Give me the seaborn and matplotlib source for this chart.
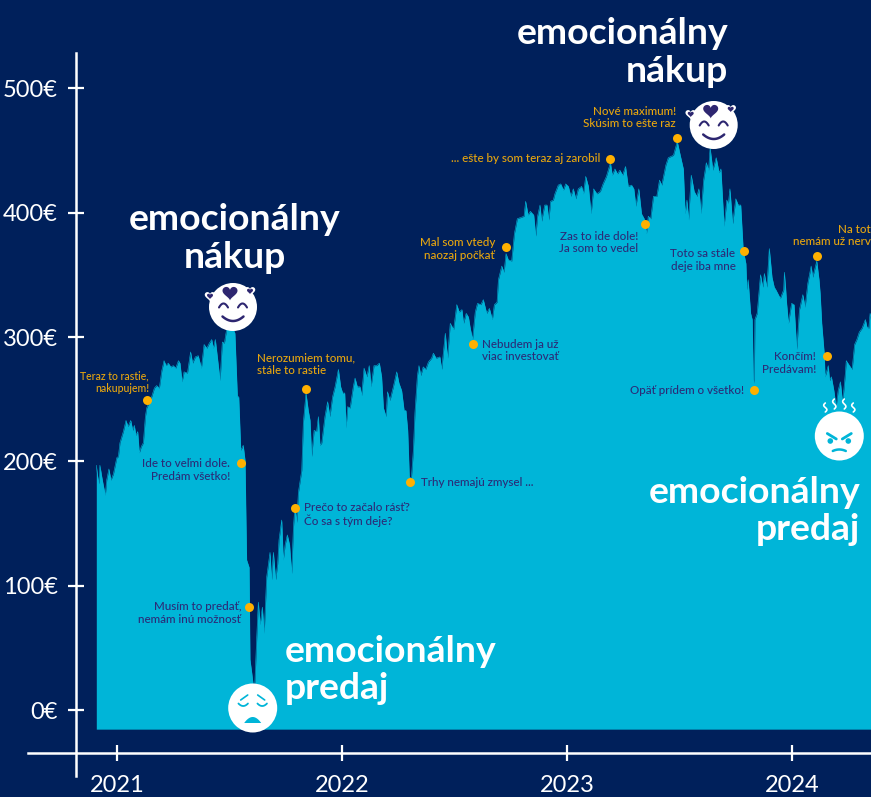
import numpy as np
import pandas as pd
import matplotlib
matplotlib.use('Agg')
import matplotlib.pyplot as plt
import seaborn as sns

# price history (decimal year, euro)
dates_2020 = [2020.908, 2020.914, 2020.919, 2020.924, 2020.932, 2020.939, 2020.948, 2020.954, 2020.964, 2020.973, 2020.984, 2020.999]
price_2020 = [197, 188, 182, 197, 188, 181, 173, 185, 194, 185, 190, 203]

dates_2021 = [2021.006, 2021.013, 2021.028, 2021.040, 2021.049, 2021.061, 2021.070, 2021.077, 2021.084, 2021.092, 2021.099, 2021.108,
              2021.117, 2021.126, 2021.132, 2021.142, 2021.154, 2021.166, 2021.176, 2021.188, 2021.199, 2021.209, 2021.218, 2021.228,
              2021.239, 2021.250, 2021.261, 2021.273, 2021.280, 2021.289, 2021.298, 2021.313, 2021.327, 2021.336, 2021.348, 2021.361,
              2021.375, 2021.387, 2021.399, 2021.410, 2021.421, 2021.428, 2021.437, 2021.446, 2021.458, 2021.468, 2021.477, 2021.487,
              2021.497, 2021.510, 2021.524, 2021.535, 2021.541, 2021.550, 2021.561, 2021.569, 2021.576, 2021.587, 2021.591, 2021.599,
              2021.609, 2021.613, 2021.621, 2021.628, 2021.636, 2021.646, 2021.654, 2021.665, 2021.680, 2021.687, 2021.695, 2021.705,
              2021.714, 2021.720, 2021.732, 2021.739, 2021.747, 2021.757, 2021.767, 2021.776, 2021.784, 2021.791, 2021.799, 2021.806,
              2021.821, 2021.828, 2021.840, 2021.850, 2021.858, 2021.865, 2021.876, 2021.887, 2021.895, 2021.902, 2021.910, 2021.924,
              2021.936, 2021.946, 2021.958, 2021.969, 2021.984, 2021.994]
price_2021 = [204, 215, 224, 233, 228, 233, 225, 229, 221, 224, 207, 212,
              215, 236, 243, 247, 252, 259, 261, 259, 273, 281, 277, 279,
              276, 277, 275, 281, 279, 264, 272, 271, 288, 279, 284, 285,
              275, 294, 291, 295, 298, 291, 298, 284, 265, 296, 295, 306,
              318, 309, 303, 252, 252, 209, 213, 201, 121, 115, 41, 30,
              15, 24, 59, 87, 69, 83, 62, 107, 127, 105, 127, 105,
              118, 137, 153, 121, 133, 141, 133, 110, 147, 165, 151, 175,
              193, 231, 255, 241, 233, 204, 225, 224, 236, 213, 215, 236,
              248, 236, 252, 260, 274, 260]

dates_2022 = [2022.003, 2022.012, 2022.018, 2022.025, 2022.036, 2022.050, 2022.058, 2022.068, 2022.080, 2022.087, 2022.098, 2022.110,
              2022.121, 2022.129, 2022.142, 2022.154, 2022.166, 2022.176, 2022.184, 2022.196, 2022.202, 2022.213, 2022.228, 2022.243,
              2022.253, 2022.265, 2022.276, 2022.284, 2022.292, 2022.299, 2022.308, 2022.317, 2022.324, 2022.335, 2022.342, 2022.350,
              2022.361, 2022.372, 2022.384, 2022.398, 2022.406, 2022.418, 2022.435, 2022.443, 2022.459, 2022.469, 2022.481, 2022.496,
              2022.510, 2022.521, 2022.533, 2022.540, 2022.552, 2022.562, 2022.569, 2022.580, 2022.592, 2022.602, 2022.617, 2022.628,
              2022.643, 2022.655, 2022.668, 2022.677, 2022.689, 2022.695, 2022.710, 2022.720, 2022.729, 2022.739, 2022.754, 2022.766,
              2022.779, 2022.794, 2022.809, 2022.816, 2022.827, 2022.837, 2022.852, 2022.861, 2022.869, 2022.880, 2022.887, 2022.901,
              2022.911, 2022.919, 2022.927, 2022.939, 2022.946, 2022.961, 2022.972, 2022.984, 2022.994]
price_2022 = [255, 255, 227, 244, 243, 260, 267, 260, 260, 253, 275, 268,
              277, 260, 277, 277, 279, 268, 243, 236, 256, 249, 260, 272,
              263, 257, 241, 241, 225, 188, 186, 209, 239, 269, 277, 269,
              276, 274, 280, 283, 287, 283, 284, 274, 303, 283, 311, 306,
              326, 320, 322, 311, 319, 316, 308, 298, 320, 327, 326, 330,
              319, 323, 314, 326, 328, 346, 357, 352, 367, 362, 361, 383,
              395, 396, 397, 409, 398, 401, 398, 381, 397, 406, 393, 406,
              406, 394, 409, 410, 415, 422, 423, 418, 423]

dates_2023 = [2023.006, 2023.017, 2023.028, 2023.039, 2023.050, 2023.065, 2023.073, 2023.083, 2023.095, 2023.107, 2023.118, 2023.133,
              2023.148, 2023.160, 2023.175, 2023.185, 2023.193, 2023.201, 2023.213, 2023.224, 2023.235, 2023.247, 2023.260, 2023.272,
              2023.287, 2023.297, 2023.306, 2023.319, 2023.331, 2023.343, 2023.353, 2023.361, 2023.372, 2023.384, 2023.399, 2023.411,
              2023.421, 2023.439, 2023.450, 2023.473, 2023.490, 2023.502, 2023.517, 2023.525, 2023.533, 2023.540, 2023.552, 2023.565,
              2023.577, 2023.586, 2023.596, 2023.607, 2023.619, 2023.629, 2023.636, 2023.648, 2023.663, 2023.676, 2023.684, 2023.698,
              2023.710, 2023.717, 2023.724, 2023.736, 2023.750, 2023.761, 2023.772, 2023.783, 2023.795, 2023.799, 2023.805, 2023.816,
              2023.823, 2023.828, 2023.832, 2023.835, 2023.845, 2023.854, 2023.860, 2023.870, 2023.877, 2023.888, 2023.899, 2023.911,
              2023.921, 2023.928, 2023.948, 2023.963, 2023.966, 2023.972, 2023.976, 2023.984, 2023.998]
price_2023 = [421, 413, 419, 411, 419, 421, 415, 429, 421, 399, 419, 415,
              417, 423, 429, 435, 440, 430, 435, 431, 434, 430, 437, 421,
              422, 419, 405, 419, 399, 395, 383, 397, 395, 413, 413, 426,
              422, 438, 444, 446, 457, 447, 435, 399, 410, 394, 430, 417,
              413, 419, 399, 426, 440, 434, 452, 434, 444, 432, 435, 389,
              410, 407, 419, 391, 411, 406, 406, 370, 359, 338, 346, 319,
              314, 266, 263, 314, 319, 338, 350, 340, 351, 340, 371, 348,
              340, 338, 331, 338, 352, 338, 327, 311, 327]

dates_2024 = [2024.009, 2024.021, 2024.033, 2024.048, 2024.058, 2024.070, 2024.085, 2024.092, 2024.110, 2024.120, 2024.125, 2024.132,
              2024.143, 2024.147, 2024.161, 2024.167, 2024.175, 2024.186, 2024.196, 2024.205, 2024.215, 2024.225, 2024.237, 2024.241,
              2024.259, 2024.267, 2024.278, 2024.288, 2024.299, 2024.311, 2024.326, 2024.333, 2024.341, 2024.347, 2024.360]
price_2024 = [326, 290, 322, 334, 324, 343, 357, 348, 361, 346, 335, 311,
              287, 268, 277, 265, 268, 257, 244, 257, 264, 247, 271, 281,
              276, 274, 294, 298, 304, 307, 314, 308, 307, 319, 310]

year_ticks = [2021, 2022, 2023, 2024]
euro_ticks = [0, 100, 200, 300, 400, 500]
euro_labels = ['0€', '100€', '200€', '300€', '400€', '500€']

# annotated moments
note_dates = [2021.135, 2021.549, 2021.587, 2021.790, 2021.840, 2022.304, 2022.580, 2022.729,
              2023.191, 2023.345, 2023.490, 2023.785, 2024.110, 2024.154, 2023.831]
note_prices = [249.2, 198.8, 83.4, 162.9, 258.5, 183.5, 294.1, 372,
               443, 391, 459.8, 368.8, 365, 284.5, 257.4]
note_texts = ['Teraz to rastie,\nnakupujem!', 'Ide to veľmi dole.\nPredám všetko!', 'Musím to predať,\nnemám inú možnosť',
              'Prečo to začalo rásť?\nČo sa s tým deje?', 'Nerozumiem tomu,\nstále to rastie', 'Trhy nemajú zmysel ...',
              'Nebudem ja už\nviac investovať', 'Mal som vtedy\nnaozaj počkať', '... ešte by som teraz aj zarobil',
              'Zas to ide dole!\nJa som to vedel', 'Nové maximum!\nSkúsim to ešte raz', 'Toto sa stále\ndeje iba mne',
              'Na toto\nnemám už nervy', 'Končím!\nPredávam!', 'Opäť prídem o všetko!']

NAVY = '#00205b'
CYAN = '#00b5d8'
GOLD = '#ffb000'
GOLD_TEXT = '#e6a50f'
INK = '#2b2c78'
PURPLE = '#2d2670'

# style of each note: colour, align, size, offset from dot in pixels (up is positive)
note_colors = [GOLD_TEXT, INK, INK, INK, GOLD_TEXT, INK, INK, GOLD_TEXT, GOLD_TEXT, INK, GOLD_TEXT, INK, GOLD_TEXT, INK, INK]
note_align = ['right', 'right', 'right', 'left', 'left', 'left', 'left', 'right', 'right', 'right', 'right', 'right', 'right', 'right', 'right']
note_size = [7.6, 8.4, 8.4, 8.4, 8.4, 8.4, 8.4, 8.4, 8.4, 8.4, 8.4, 8.4, 8.4, 8.4, 8.4]
note_offset = [(1.7, 17.8), (-10.5, -7), (-8, -6.3), (9.3, -6.8), (-49, 24.2), (10.7, 0), (9.5, -6.2), (-11, -1.7),
               (-10, 0), (-6.7, -18.8), (-1.3, 20.5), (-8.2, -8.7), (60.3, 20.5), (-10.7, -6.7), (-10, 0)]

sns.set_theme(style='dark', rc={'axes.facecolor': NAVY, 'figure.facecolor': NAVY})
plt.rcParams['font.family'] = ['Lato', 'DejaVu Sans']

df = pd.DataFrame({
    'date': dates_2020 + dates_2021 + dates_2022 + dates_2023 + dates_2024,
    'price': price_2020 + price_2021 + price_2022 + price_2023 + price_2024,
})
notes = pd.DataFrame({'date': note_dates, 'price': note_prices})

fig = plt.figure(figsize=(8.71, 7.97), dpi=100)
ax = fig.add_axes([0, 0, 1, 1])

# the axes fill the figure so the lines can sit inside it
ax.set_xlim(2020.48, 2024.351)
ax.set_ylim(-69.5, 570.7)

ax.fill_between(df['date'], df['price'], -15, color=CYAN, linewidth=0, zorder=2)
sns.lineplot(data=df, x='date', y='price', color=CYAN, linewidth=0.4, estimator=None, ax=ax, zorder=2)
sns.scatterplot(data=notes, x='date', y='price', color=GOLD, s=42, linewidth=0, ax=ax, zorder=4)

for i in range(len(note_texts)):
    dx, dy = note_offset[i]
    ax.annotate(note_texts[i], xy=(note_dates[i], note_prices[i]), xytext=(dx * 0.72, dy * 0.72),
                textcoords='offset points', ha=note_align[i], va='center', color=note_colors[i],
                fontsize=note_size[i], fontweight='medium', linespacing=1.13, zorder=5, annotation_clip=False)

ax.set_xlabel('')
ax.set_ylabel('')
ax.set_xticks(year_ticks)
ax.set_xticklabels([str(y) for y in year_ticks])
ax.set_yticks(euro_ticks)
ax.set_yticklabels(euro_labels)
ax.tick_params(axis='x', direction='inout', length=11.5, width=1.6, color='white', labelcolor='white',
               labelsize=17, pad=10.5, bottom=True, zorder=6)
ax.tick_params(axis='y', direction='inout', length=11.5, width=1.6, color='white', labelcolor='white',
               labelsize=17, pad=7.5, left=True, zorder=6)
ax.grid(False)

sns.despine(ax=ax)
ax.spines['left'].set_position(('data', 2020.818))
ax.spines['left'].set_bounds(-53, 528)
ax.spines['bottom'].set_position(('data', -34))
ax.spines['bottom'].set_bounds(2020.604, 2024.351)
for side in ['left', 'bottom']:
    ax.spines[side].set_color('white')
    ax.spines[side].set_linewidth(1.8)
    ax.spines[side].set_zorder(6)

# overlay in pixels for the faces and headlines
ov = fig.add_axes([0, 0, 1, 1])
ov.set_xlim(0, 871)
ov.set_ylim(797, 0)
ov.axis('off')
ov.patch.set_alpha(0)


def curve(cx, cy, w, h, color, lw=1.5):
    x = np.linspace(-w / 2, w / 2, 30)
    y = h * (1 - (2 * x / w) ** 2)
    ov.plot(cx + x, cy + y, color=color, lw=lw, solid_capstyle='round', zorder=11)


def heart(cx, cy, size, color):
    t = np.linspace(0, 2 * np.pi, 80)
    x = 16 * np.sin(t) ** 3
    y = 13 * np.cos(t) - 5 * np.cos(2 * t) - 2 * np.cos(3 * t) - np.cos(4 * t)
    ov.fill(cx + x * size / 32, cy - y * size / 32, color=color, zorder=12, lw=0)


def face(cx, cy, r):
    ov.add_patch(plt.Circle((cx, cy), r, color='white', zorder=10, lw=0))


def happy(cx, cy):
    face(cx, cy, 24)
    curve(cx - 9.5, cy + 0.5, 9, -4, PURPLE)
    curve(cx + 9.5, cy + 0.5, 9, -4, PURPLE)
    curve(cx, cy + 9.5, 21, 4.5, PURPLE, lw=1.8)
    heart(cx - 3, cy - 14.5, 15, PURPLE)
    heart(cx - 23, cy - 11, 10.5, 'white')
    heart(cx + 17, cy - 16, 10.5, 'white')
    heart(cx - 23, cy - 11, 6, PURPLE)
    heart(cx + 17, cy - 16, 6, PURPLE)


def sad(cx, cy):
    face(cx, cy, 24.5)
    curve(cx - 9.5, cy - 4.5, 9.5, 2.5, CYAN, lw=1.3)
    curve(cx + 9.5, cy - 4.5, 9.5, 2.5, CYAN, lw=1.3)
    ov.plot([cx - 12, cx - 5], [cy - 8, cy - 13], color=CYAN, lw=1.2, zorder=11)
    ov.plot([cx + 12, cx + 5], [cy - 8, cy - 13], color=CYAN, lw=1.2, zorder=11)
    x = np.linspace(-8.5, 8.5, 30)
    ov.fill(cx + x, cy + 15 - 6 * (1 - (x / 8.5) ** 2), color=CYAN, zorder=11, lw=0)


def angry(cx, cy):
    face(cx, cy, 24.5)
    ov.plot([cx - 12, cx - 3], [cy - 2.5, cy + 3], color=CYAN, lw=2, zorder=11)
    ov.plot([cx + 12, cx + 3], [cy - 2.5, cy + 3], color=CYAN, lw=2, zorder=11)
    ov.add_patch(plt.Circle((cx - 9, cy + 5), 2.8, color=CYAN, zorder=11, lw=0))
    ov.add_patch(plt.Circle((cx + 9, cy + 5), 2.8, color=CYAN, zorder=11, lw=0))
    curve(cx, cy + 15, 13, -1.5, CYAN, lw=1.8)
    for sx, sy, tall in [(-14, -24, 9), (-5, -27, 10), (5, -27, 10), (14, -24, 9)]:
        yy = np.linspace(0, tall, 20)
        ov.plot(cx + sx + 1.6 * np.sin(yy / tall * 2 * np.pi), cy + sy - yy, color='white', lw=1.2, zorder=11)


happy(233, 307)
happy(713.7, 125)
sad(252.7, 708)
angry(839.3, 436)

title_kw = dict(color='white', fontsize=26.9, fontweight='bold', va='center', linespacing=1.16, zorder=13)
ov.text(235, 238.5, 'emocionálny\nnákup', ha='center', **title_kw)
ov.text(728, 52.5, 'emocionálny\nnákup', ha='right', **title_kw)
ov.text(285, 670, 'emocionálny\npredaj', ha='left', **title_kw)
ov.text(860, 511, 'emocionálny\npredaj', ha='right', **title_kw)

fig.savefig('out.png', dpi=100, facecolor=NAVY)
plt.close(fig)
